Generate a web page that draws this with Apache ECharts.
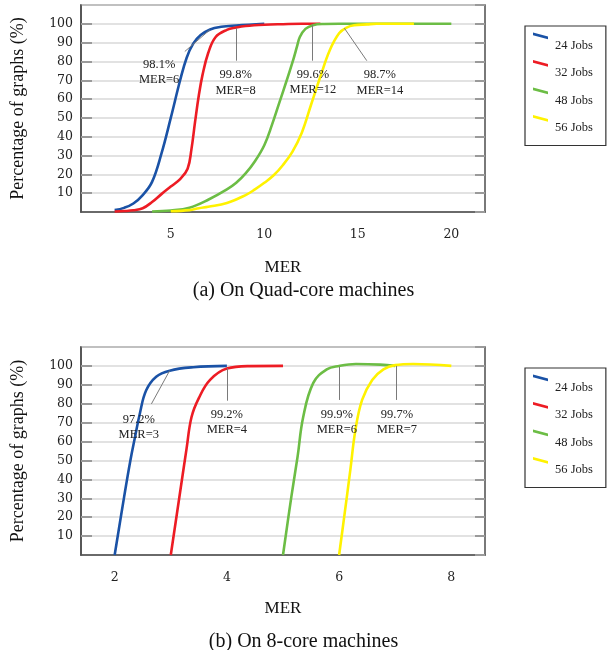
<!DOCTYPE html>
<html>
<head>
<meta charset="utf-8">
<script src="https://cdn.jsdelivr.net/npm/echarts@6/dist/echarts.min.js"></script>
<style>html,body{margin:0;padding:0;background:#fff}#c{width:607px;height:650px}</style>
</head>
<body>
<div id="c"></div>
<script>
// ---------- data ----------
const seriesNames = ['24 Jobs', '32 Jobs', '48 Jobs', '56 Jobs'];
const colors = ['#1a52a6', '#ed1c24', '#6cbd45', '#fff200'];

const xTicksQuad = [5, 10, 15, 20];
const xTicksOcta = [2, 4, 6, 8];

// (a) Quad-core: [MER, percentage]
const quad24 = [[2,1],[2.5,2.2],[3,4.5],[3.5,9],[4,16],[4.5,31],[5,50],[5.5,70],[5.85,82],[6.2,89.5],[6.6,94],[7.1,97],[7.7,98.4],[8.5,99.1],[10,100]];
const quad32 = [[2,0.3],[2.5,0.5],[3,0.9],[3.5,2],[4,5.3],[4.5,9.5],[5,13.5],[5.5,17.5],[5.9,23],[6.1,33],[6.3,48],[6.5,62],[6.7,73],[7,84.5],[7.4,93],[8,96.8],[8.5,98],[9,98.8],[10,99.5],[11,99.8],[12,100],[13,100]];
const quad48 = [[4,0.3],[5,0.8],[6,2.3],[7,6.5],[8,12],[8.5,15.5],[9,20.5],[9.5,27],[10,35.5],[10.4,46],[10.8,58],[11.2,70],[11.55,81],[11.75,88],[11.9,93],[12.2,97.3],[12.6,99.3],[13.2,99.9],[14,100],[20,100]];
const quad56 = [[5,0.4],[6,1],[6.5,2],[7,2.8],[8,4.8],[9,9],[9.5,12],[10,15.5],[10.5,19.5],[11,25],[11.5,32],[12,42],[12.5,57],[13,72],[13.5,86],[14,95],[14.4,98],[14.8,99.2],[15.5,99.7],[16,100],[18,100]];

// (b) 8-core: [MER, percentage]
const octa24 = [[2,0],[2.17,31],[2.28,50],[2.36,62],[2.45,75],[2.56,87],[2.74,94.3],[2.98,97.5],[3.4,99.3],[4,100]];
const octa32 = [[3,0],[3.15,30],[3.28,56],[3.37,73],[3.5,83],[3.7,92.6],[4,98.6],[4.4,99.9],[5,100]];
const octa48 = [[5,0],[5.15,31],[5.26,52],[5.36,73],[5.54,91],[5.78,98.2],[6,100],[6.3,101],[6.73,100.7],[7,100]];
const octa56 = [[6,0],[6.09,20],[6.2,45],[6.29,66],[6.41,82],[6.59,92.6],[6.79,98.2],[7,100.4],[7.32,101],[8,100]];

// annotations: text, leader line (data coords), text anchor (data coords)
const annQuadText = ['98.1%\nMER=6', '99.8%\nMER=8', '99.6%\nMER=12', '98.7%\nMER=14'];
const annQuadLine = [[[5.75,85.3],[7.09,96.8]], [[8.5,97.7],[8.5,80.4]], [[12.59,99.5],[12.59,80.4]], [[14.28,97.7],[15.48,80.4]]];
const annQuadPos = [[4.38,74.2], [8.47,68.8], [12.6,68.9], [16.18,68.8]];

const annOctaText = ['97.2%\nMER=3', '99.2%\nMER=4', '99.9%\nMER=6', '99.7%\nMER=7'];
const annOctaLine = [[[2.655,79.9],[2.98,97.5]], [[4.0,98.8],[4.0,81.6]], [[6.0,99.5],[6.0,82]], [[7.02,100],[7.02,82]]];
const annOctaPos = [[2.43,67.6], [4.0,70.1], [5.96,70.3], [7.03,70.3]];

const captionA = '(a) On Quad-core machines';
const captionB = '(b) On 8-core machines';
const xName = 'MER';
const yName = 'Percentage of graphs (%)';

// ---------- chart ----------
const serif = 'Liberation Serif';
const tickFont = 'DejaVu Serif';

function makeX(idx, min, max, ticks, gap) {
  return {
    type: 'value', gridIndex: idx, min: min, max: max,
    axisLine: { show: true, lineStyle: { color: '#4d4d4d', width: 1.5 } },
    axisTick: { show: false },
    splitLine: { show: false },
    axisLabel: { customValues: ticks, margin: 16, fontFamily: tickFont, fontSize: 12.5, color: '#222' },
    name: xName, nameLocation: 'middle', nameGap: gap,
    nameTextStyle: { fontFamily: serif, fontSize: 17, color: '#111' }
  };
}
function makeY(idx) {
  return {
    type: 'value', gridIndex: idx, min: 0, max: 110, interval: 10,
    axisLine: { show: true, lineStyle: { color: '#4d4d4d', width: 1.5 } },
    axisTick: { show: true, inside: true, length: 11, lineStyle: { color: '#9a9a9a', width: 2 } },
    splitLine: { show: true, lineStyle: { color: '#d9d9d9', width: 1.5 } },
    axisLabel: { showMinLabel: false, showMaxLabel: false, margin: 8, fontFamily: tickFont, fontSize: 12.5, color: '#222' },
    name: yName, nameLocation: 'middle', nameRotate: 90, nameGap: 54,
    nameTextStyle: { fontFamily: serif, fontSize: 18, color: '#111' }
  };
}
function makeYRight(idx) {
  return {
    type: 'value', gridIndex: idx, position: 'right', min: 0, max: 110, interval: 10,
    axisLine: { show: false },
    axisTick: { show: true, inside: true, length: 10, lineStyle: { color: '#9a9a9a', width: 2 } },
    splitLine: { show: false },
    axisLabel: { show: false }
  };
}

function makeSeries(name, color, data, xi, yi, annText, annLine, annPos) {
  return {
    type: 'line', name: name, xAxisIndex: xi, yAxisIndex: yi, data: data,
    smooth: 0.4, showSymbol: false, symbol: 'none',
    lineStyle: { color: color, width: 2.6 }, itemStyle: { color: color },
    markLine: {
      silent: true, symbol: ['none', 'none'],
      lineStyle: { color: '#7a7a7a', width: 1, type: 'solid' },
      label: { show: false },
      data: [[{ coord: annLine[0] }, { coord: annLine[1] }]]
    },
    markPoint: {
      silent: true, symbol: 'circle', symbolSize: 1,
      itemStyle: { color: 'rgba(0,0,0,0)' },
      label: { show: true, position: 'inside', formatter: annText, fontFamily: serif, fontSize: 12.5, lineHeight: 15.5, color: '#222', align: 'center' },
      data: [{ coord: annPos }]
    }
  };
}

const quadData = [quad24, quad32, quad48, quad56];
const octaData = [octa24, octa32, octa48, octa56];

const series = [];
for (let i = 0; i < 4; i++) series.push(makeSeries(seriesNames[i], colors[i], quadData[i], 0, 0, annQuadText[i], annQuadLine[i], annQuadPos[i]));
for (let i = 0; i < 4; i++) series.push(makeSeries(seriesNames[i], colors[i], octaData[i], 1, 2, annOctaText[i], annOctaLine[i], annOctaPos[i]));

function makeLegend(top) {
  return {
    orient: 'vertical', left: 525, top: top,
    data: seriesNames.map(n => ({ name: n, icon: 'path://M0,0L15,4L15,6.8L0,2.8Z M0,26L0,26' })),
    itemWidth: 15, itemHeight: 26, itemGap: 1.5,
    padding: [6.5, 13, 4.5, 8],
    borderColor: '#333', borderWidth: 1.2, borderRadius: 0,
    backgroundColor: '#fff',
    itemStyle: { borderWidth: 0 },
    selectedMode: false,
    textStyle: { fontFamily: serif, fontSize: 12.5, color: '#222', padding: [2, 0, 0, 2] }
  };
}

const chart = echarts.init(document.getElementById('c'), null, { renderer: 'canvas' });
chart.setOption({
  animation: false,
  backgroundColor: '#fff',
  title: [
    { text: captionA, left: 'center', top: 281, padding: 0, textStyle: { fontFamily: serif, fontSize: 20, fontWeight: 'normal', color: '#111' } },
    { text: captionB, left: 'center', top: 632, padding: 0, textStyle: { fontFamily: serif, fontSize: 20, fontWeight: 'normal', color: '#111' } }
  ],
  legend: [makeLegend(26), makeLegend(368)],
  grid: [
    { left: 81, top: 5, width: 404, height: 207, show: true, borderColor: '#4d4d4d', borderWidth: 1.5, backgroundColor: 'transparent' },
    { left: 81, top: 347, width: 404, height: 208, show: true, borderColor: '#4d4d4d', borderWidth: 1.5, backgroundColor: 'transparent' }
  ],
  xAxis: [makeX(0, 0.2, 21.8, xTicksQuad, 47), makeX(1, 1.4, 8.6, xTicksOcta, 45)],
  yAxis: [makeY(0), makeYRight(0), makeY(1), makeYRight(1)],
  series: series
});
</script>
</body>
</html>
